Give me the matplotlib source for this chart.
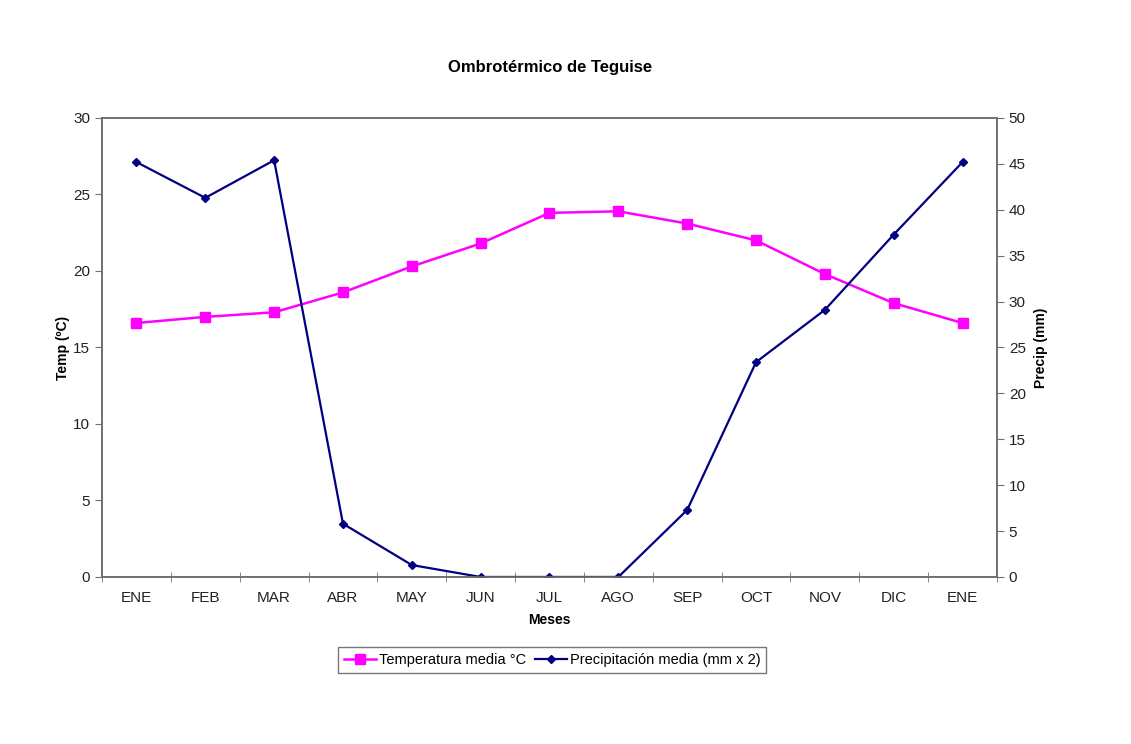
import matplotlib.pyplot as plt
import numpy as np

plt.rcParams['font.family'] = ['Liberation Sans', 'DejaVu Sans']

# datos
meses = ["ENE", "FEB", "MAR", "ABR", "MAY", "JUN", "JUL", "AGO", "SEP", "OCT", "NOV", "DIC", "ENE"]
temp = [16.6, 17.0, 17.3, 18.6, 20.3, 21.8, 23.8, 23.9, 23.1, 22.0, 19.8, 17.9, 16.6]
precip = [45.2, 41.3, 45.4, 5.8, 1.3, 0.0, 0.0, 0.0, 7.3, 23.4, 29.1, 37.3, 45.2]

x = np.arange(len(meses))
axis_col = "#707070"

fig = plt.figure(figsize=(11.31, 7.44), dpi=100)
ax = fig.add_axes([0.0902, 0.2245, 0.7913, 0.6169])
ax2 = ax.twinx()

l1, = ax.plot(x, temp, color="#FF00FF", marker="s", markersize=7, linewidth=1.8,
              label="Temperatura media °C")
l2, = ax2.plot(x, precip, color="#000080", marker="D", markersize=4.5, linewidth=1.6,
               label="Precipitación media (mm x 2)")

ax.set_xlim(-0.5, len(meses) - 0.5)
ax.set_ylim(0, 30)
ax2.set_ylim(0, 50)
ax.set_yticks(range(0, 31, 5))
ax2.set_yticks(range(0, 51, 5))

# etiquetas centradas en la categoria, marcas entre categorias
ax.set_xticks(x)
ax.set_xticklabels(meses)
ax.set_xticks(np.arange(-0.5, len(meses), 1), minor=True)
ax.tick_params(axis="x", which="major", length=0, pad=10, labelsize=11, colors="#222222")
ax.tick_params(axis="x", which="minor", length=7, direction="inout", color=axis_col)
ax.tick_params(axis="y", length=5, direction="out", labelsize=11, colors="#222222", color=axis_col)
ax2.tick_params(axis="y", length=5, direction="out", labelsize=11, colors="#222222", color=axis_col)

for a in (ax, ax2):
    for s in a.spines.values():
        s.set_color(axis_col)
        s.set_linewidth(1.2)

ax.set_xlabel("Meses", fontsize=10, fontweight="bold", labelpad=6)
ax.set_ylabel("Temp (ºC)", fontsize=10, fontweight="bold", labelpad=2)
ax2.set_ylabel("Precip (mm)", fontsize=10, fontweight="bold", labelpad=6)

fig.text(0.486, 0.909, "Ombrotérmico de Teguise", ha="center", va="center",
         fontsize=12, fontweight="semibold")

leg = fig.legend(handles=[l1, l2], loc="center", bbox_to_anchor=(0.488, 0.113), ncol=2,
                 fontsize=10.5, frameon=True, fancybox=False, edgecolor="#555555",
                 handlelength=2.2, handletextpad=0.2, columnspacing=0.6, borderpad=0.4)
leg.get_frame().set_linewidth(1.0)

fig.savefig("out.png", dpi=100)
